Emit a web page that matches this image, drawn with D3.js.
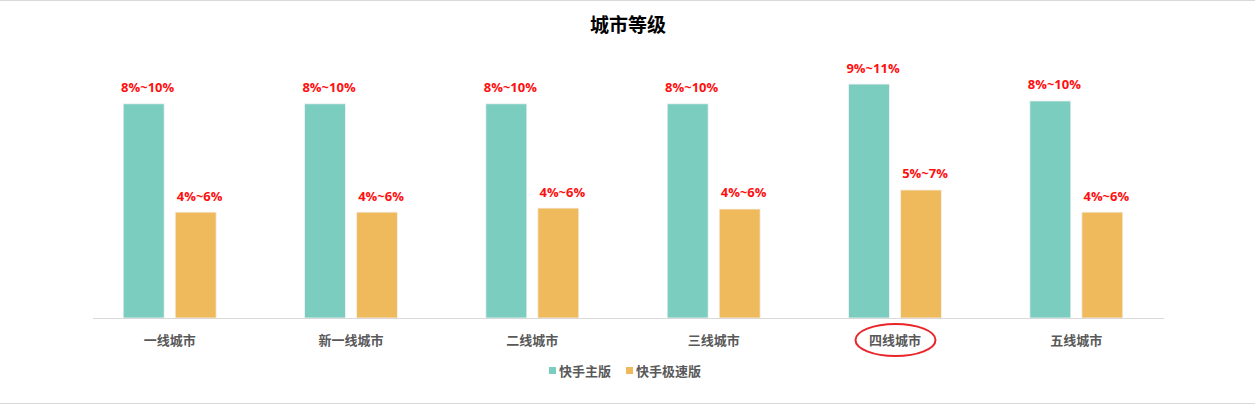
<!DOCTYPE html>
<html>
<head>
<meta charset="utf-8">
<script src="https://cdn.jsdelivr.net/npm/d3@7"></script>
<style>
html,body{margin:0;padding:0;background:#fff;}
svg{display:block;font-family:"Noto Sans CJK SC","Noto Sans",sans-serif;}
</style>
</head>
<body>
<svg id="chart" width="1255" height="405"></svg>
<script>
const title = "城市等级";
const categories = ["一线城市","新一线城市","二线城市","三线城市","四线城市","五线城市"];
const seriesNames = ["快手主版","快手极速版"];
const mainValues = [9.0, 9.0, 9.0, 9.0, 9.83, 9.12];
const liteValues = [4.45, 4.45, 4.62, 4.58, 5.38, 4.45];
const mainLabels = ["8%~10%","8%~10%","8%~10%","8%~10%","9%~11%","8%~10%"];
const liteLabels = ["4%~6%","4%~6%","4%~6%","4%~6%","5%~7%","4%~6%"];
const highlighted = "四线城市";
const colors = ["#7bcdc0","#efba5c"];

const svg = d3.select("#chart");
const W = 1255, H = 405;
const baseY = 318;

// frame lines
svg.append("line").attr("x1",0).attr("x2",W).attr("y1",0.5).attr("y2",0.5).attr("stroke","#d9d9d9");
svg.append("line").attr("x1",0).attr("x2",W).attr("y1",403.5).attr("y2",403.5).attr("stroke","#d9d9d9");

const x0 = d3.scaleBand().domain(categories).range([79,1167]).padding(0);
const x1 = d3.scaleBand().domain(seriesNames).range([0,93]).paddingInner(0.2115).paddingOuter(0);
const y = d3.scaleLinear().domain([0,10]).range([baseY,80]);

const data = categories.map((c,i)=>({
  cat:c,
  vals:[
    {s:seriesNames[0], v:mainValues[i], label:mainLabels[i], color:colors[0]},
    {s:seriesNames[1], v:liteValues[i], label:liteLabels[i], color:colors[1]}
  ]
}));

// title
svg.append("text").attr("x",628).attr("y",32).attr("text-anchor","middle")
  .attr("font-size",19).attr("font-weight","bold").attr("fill","#000").text(title);

const groups = svg.selectAll("g.grp").data(data).join("g")
  .attr("class","grp")
  .attr("transform",d=>`translate(${x0(d.cat)+x0.bandwidth()/2-46.5},0)`);

groups.selectAll("rect").data(d=>d.vals).join("rect")
  .attr("x",d=>x1(d.s)).attr("width",x1.bandwidth())
  .attr("y",d=>y(d.v)).attr("height",d=>baseY-y(d.v))
  .attr("fill",d=>d.color).attr("stroke","#f4f4f4").attr("stroke-width",0.8);

groups.selectAll("text.val").data(d=>d.vals).join("text")
  .attr("class","val")
  .attr("x",d=>x1(d.s)+x1.bandwidth()/2+4)
  .attr("y",d=>y(d.v)-11.5)
  .attr("text-anchor","middle")
  .attr("font-size",13).attr("font-weight","bold").attr("fill","#ff1010")
  .attr("font-family","\"Open Sans\",\"Noto Sans\",sans-serif")
  .text(d=>d.label);

// x axis
const xAxis = d3.axisBottom(x0).tickSize(0).tickPadding(0);
const ax = svg.append("g").attr("transform",`translate(0,${baseY})`).call(xAxis);
ax.select(".domain").remove();
ax.selectAll("text").attr("font-size",13).attr("font-weight","bold").attr("fill","#595959")
  .attr("font-family","\"Noto Sans CJK SC\",sans-serif").attr("dy","2.05em");
svg.append("line").attr("x1",93).attr("x2",1164).attr("y1",baseY+0.5).attr("y2",baseY+0.5)
  .attr("stroke","#d9d9d9").attr("stroke-width",1.2);

// highlight ellipse
svg.append("ellipse").attr("cx",x0(highlighted)+x0.bandwidth()/2+0.5).attr("cy",340)
  .attr("rx",40).attr("ry",16).attr("fill","none").attr("stroke","#e8262a").attr("stroke-width",2);

// legend
const legend = svg.append("g").attr("transform","translate(549,371)");
const legItems = [{name:seriesNames[0],color:colors[0],x:0},{name:seriesNames[1],color:colors[1],x:77}];
const li = legend.selectAll("g").data(legItems).join("g").attr("transform",d=>`translate(${d.x},0)`);
li.append("rect").attr("x",0).attr("y",-4).attr("width",7).attr("height",7).attr("fill",d=>d.color);
li.append("text").attr("x",10).attr("y",4.5).attr("font-size",13).attr("font-weight","bold")
  .attr("fill","#595959").text(d=>d.name);
</script>
</body>
</html>
